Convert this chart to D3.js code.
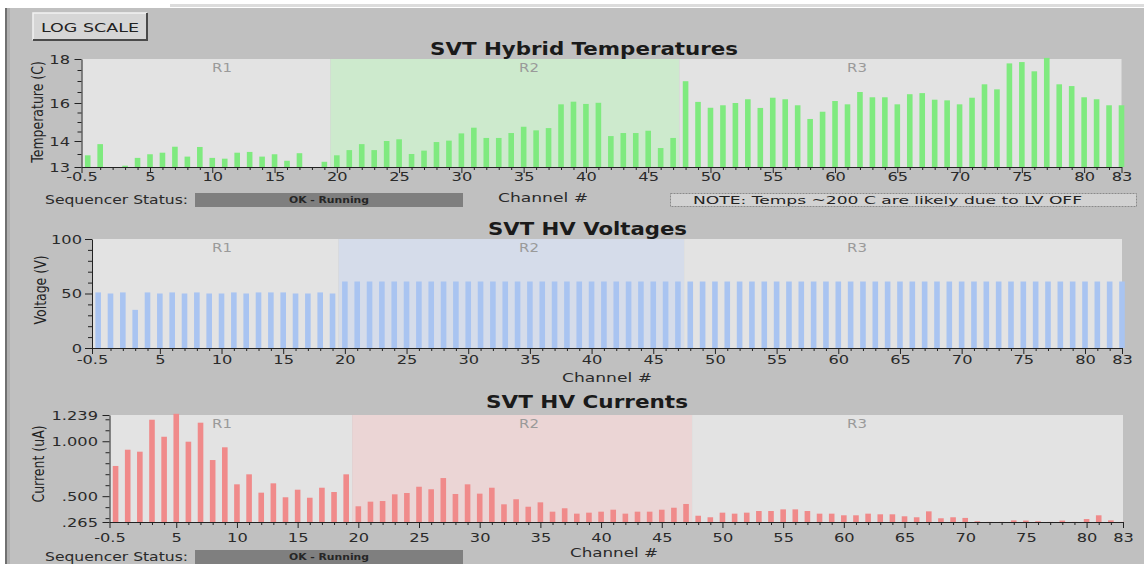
<!DOCTYPE html>
<html><head><meta charset="utf-8">
<script src="https://cdn.jsdelivr.net/npm/d3@7"></script>
<style>
html,body{margin:0;padding:0;background:#fff;}
svg{display:block;}
text{font-family:"DejaVu Sans",sans-serif;}
</style>
</head><body>
<svg id="chart" width="1144" height="564"></svg>
<script>
// ---------------- DATA ----------------
const channels = d3.range(0, 84);
const temperatures = [13.45,13.88,12.9,13.05,13.35,13.49,13.55,13.78,13.4,13.77,
  13.35,13.32,13.55,13.58,13.4,13.49,13.24,13.53,12.9,13.2,
  13.45,13.65,13.88,13.65,14.0,14.09,13.5,13.63,13.96,14.02,
  14.4,14.7,14.16,14.16,14.42,14.75,14.56,14.68,15.93,16.06,
  15.95,16.01,14.26,14.42,14.42,14.54,13.73,14.16,16.99,16.05,
  15.75,15.88,16.0,16.17,15.74,16.24,16.17,15.88,15.16,15.54,
  16.09,15.93,16.5,16.26,16.26,15.93,16.4,16.45,16.15,16.12,
  15.93,16.24,16.85,16.62,17.8,17.86,17.44,18.05,16.85,16.77,
  16.26,16.17,15.88,15.88];
const voltages = [51,50,51,35,51,50,51,50,51,50,50,51,50,51,51,51,50,50,51,50,
  61,61,61,61,61,61,61,61,61,61,61,61,61,61,61,61,61,61,61,61,
  61,61,61,61,61,61,61,61,61,61,61,61,61,61,61,61,61,61,61,61,
  61,61,61,61,61,61,61,61,61,61,61,61,61,61,61,61,61,61,61,61,
  61,61,61,61];
const currents = [0.775,0.923,0.905,1.196,1.041,1.25,0.996,1.169,0.829,0.945,
  0.608,0.699,0.532,0.617,0.49,0.559,0.486,0.577,0.538,0.699,
  0.408,0.45,0.456,0.517,0.529,0.586,0.563,0.665,0.52,0.608,
  0.523,0.577,0.426,0.472,0.404,0.444,0.359,0.39,0.341,0.35,
  0.359,0.377,0.341,0.359,0.359,0.377,0.395,0.429,0.322,0.308,
  0.35,0.341,0.35,0.365,0.365,0.38,0.38,0.365,0.341,0.341,
  0.326,0.326,0.341,0.335,0.335,0.317,0.308,0.362,0.299,0.308,
  0.302,0.272,0.266,0.266,0.28,0.278,0.272,0.266,0.278,0.266,
  0.292,0.326,0.28,0.266];
const regionNames = ["R1","R2","R3"];
const regionBounds = [[-0.5,19.5],[19.5,47.5],[47.5,83]];
const xTickValues = [-0.5,5,10,15,20,25,30,35,40,45,50,55,60,65,70,75,80,83];
const tempTicks = [13,14,16,18];
const voltTicks = [0,50,100];
const voltMinor = [10,20,30,40,60,70,80,90];
const currTicks = [0.265,0.5,1.0,1.239];
const currTickLabels = [".265",".500","1.000","1.239"];
const currMinor = [0.3,0.4,0.6,0.7,0.8,0.9,1.1,1.2];
const tempMinor = [13.5,14.5,15,15.5,16.5,17,17.5];
const titles = ["SVT Hybrid Temperatures","SVT HV Voltages","SVT HV Currents"];
const yTitles = ["Temperature (C)","Voltage (V)","Current (uA)"];

// ---------------- LAYOUT ----------------
const SX = 1.3;
const svg = d3.select("#chart");
svg.append("rect").attr("x",0).attr("y",0).attr("width",1144).attr("height",564).attr("fill","#fff");
svg.append("rect").attr("x",170).attr("y",4).attr("width",974).attr("height",3).attr("fill","#dcdcdc");
svg.append("rect").attr("x",5).attr("y",8).attr("width",1139).attr("height",556).attr("fill","#c0c0c0");
svg.append("rect").attr("x",5).attr("y",8).attr("width",2).attr("height",556).attr("fill","#707070");
svg.append("rect").attr("x",7).attr("y",8).attr("width",3).attr("height",556).attr("fill","#b0b0b0");

// LOG SCALE button
const btn = svg.append("g");
btn.append("rect").attr("x",33).attr("y",13).attr("width",114).attr("height",27).attr("fill","#d6d6d6");
btn.append("path").attr("d","M33,40 L33,13 L147,13").attr("stroke","#f2f2f2").attr("stroke-width",1.5).attr("fill","none");
btn.append("path").attr("d","M147,13 L147,40 L33,40").attr("stroke","#4a4a4a").attr("stroke-width",2).attr("fill","none");
btn.append("text").attr("x",41).attr("y",32).attr("font-size",13).attr("fill","#222")
  .attr("textLength",98).attr("lengthAdjust","spacingAndGlyphs").text("LOG SCALE");

const panels = [
  {values: temperatures, left:81.5, right:1121.5, yDomain:[13,14,16,18], yRange:[167,141,103,59],
   ticks: tempTicks, tickLabels: tempTicks.map(String), minor: tempMinor,
   bar:"#7fea7f", r2:"#cdeacd", title:{x:584,y:55,w:308}, ytitle:{x:38,y:112},
   labelGap:11.5, xLabelTop:5, chan:{x:543,y:202,w:90}},
  {values: voltages, left:92, right:1122, yDomain:[0,100], yRange:[348,239],
   ticks: voltTicks, tickLabels: voltTicks.map(String), minor: voltMinor,
   bar:"#a9c4f1", r2:"#d5dcea", title:{x:587.5,y:235,w:199}, ytitle:{x:41,y:290},
   labelGap:10, xLabelTop:7, chan:{x:607,y:382,w:90}},
  {values: currents, left:109.5, right:1123, yDomain:[0.265,1.239], yRange:[522,415],
   ticks: currTicks, tickLabels: currTickLabels, minor: currMinor,
   bar:"#f08a8a", r2:"#ebd5d5", title:{x:587,y:408,w:202}, ytitle:{x:39,y:464},
   labelGap:11.5, xLabelTop:11, chan:{x:614,y:557,w:88}}
];
const regionLabelX = [222,529,857];

panels.forEach((p, pi) => {
  const x = d3.scaleLinear().domain([-0.5,83]).range([p.left,p.right]);
  const y = d3.scaleLinear().domain(p.yDomain).range(p.yRange);
  const top = p.yRange[p.yRange.length-1], bottom = p.yRange[0];
  const g = svg.append("g");
  // regions
  regionBounds.forEach((b,i) => {
    g.append("rect").attr("x",x(b[0])).attr("y",top).attr("width",x(b[1])-x(b[0])).attr("height",bottom-top)
      .attr("fill", i===1 ? p.r2 : "#e3e3e3");
  });
  regionNames.forEach((n,i) => {
    g.append("text").attr("transform",`translate(${regionLabelX[i]},${top+13}) scale(${SX},1)`)
      .attr("text-anchor","middle").attr("font-size",11.5).attr("fill","#9a9a9a").text(n);
  });
  // bars
  const bw = 5.6;
  g.selectAll("rect.bar").data(channels).enter().append("rect").attr("class","bar")
    .attr("x", c => x(c)-bw/2).attr("width",bw)
    .attr("y", c => Math.min(y(p.values[c]), bottom))
    .attr("height", c => Math.max(0, bottom - y(p.values[c])))
    .attr("fill", p.bar);
  // x axis major
  const xa = g.append("g").attr("transform",`translate(0,${bottom})`)
    .call(d3.axisBottom(x).tickValues(xTickValues).tickSize(6).tickSizeOuter(0).tickFormat(d=>String(d)));
  xa.select(".domain").attr("stroke","#222");
  xa.selectAll(".tick line").attr("stroke","#222");
  xa.selectAll(".tick text").attr("font-family","DejaVu Sans").attr("font-size",12.5).attr("fill","#2a2a2a")
    .attr("y",p.xLabelTop).attr("dy","0.76em").attr("transform",`scale(${SX},1)`);
  // x axis minor
  const minorX = channels.filter(c => c % 5 !== 0 && c !== 83);
  const xm = g.append("g").attr("transform",`translate(0,${bottom})`)
    .call(d3.axisBottom(x).tickValues(minorX).tickSize(3).tickFormat(""));
  xm.select(".domain").remove();
  xm.selectAll(".tick line").attr("stroke","#222");
  // y axis major
  const ya = g.append("g").attr("transform",`translate(${p.left},0)`)
    .call(d3.axisLeft(y).tickValues(p.ticks).tickSize(7).tickSizeOuter(0).tickFormat((d,i)=>p.tickLabels[i]));
  ya.select(".domain").attr("stroke","#222");
  ya.selectAll(".tick line").attr("stroke","#222");
  ya.selectAll(".tick text").attr("font-family","DejaVu Sans").attr("font-size",12.5).attr("fill","#2a2a2a")
    .attr("x", -p.labelGap/SX).attr("transform",`scale(${SX},1)`);
  const ym = g.append("g").attr("transform",`translate(${p.left},0)`)
    .call(d3.axisLeft(y).tickValues(p.minor).tickSize(4).tickFormat(""));
  ym.select(".domain").remove();
  ym.selectAll(".tick line").attr("stroke","#222");
  // titles
  g.append("text").attr("x",p.title.x-p.title.w/2).attr("y",p.title.y).attr("font-size",17).attr("font-weight","bold")
    .attr("fill","#1a1a1a").attr("textLength",p.title.w).attr("lengthAdjust","spacingAndGlyphs")
    .text(titles[pi]);
  g.append("text").attr("transform",`translate(${p.ytitle.x},${p.ytitle.y}) rotate(-90) scale(1,1.2)`)
    .attr("text-anchor","middle").attr("dy","0.35em").attr("font-size",12.5).attr("fill","#222")
    .text(yTitles[pi]);
  g.append("text").attr("x",p.chan.x-p.chan.w/2).attr("y",p.chan.y).attr("font-size",13).attr("fill","#2a2a2a")
    .attr("textLength",p.chan.w).attr("lengthAdjust","spacingAndGlyphs").text("Channel #");
});

// Sequencer status rows
[{y:193, base:204}, {y:550, base:561}].forEach(s => {
  svg.append("text").attr("x",45).attr("y",s.base).attr("font-size",12).attr("fill","#2a2a2a")
    .attr("textLength",143).attr("lengthAdjust","spacingAndGlyphs").text("Sequencer Status:");
  svg.append("rect").attr("x",195).attr("y",s.y).attr("width",268).attr("height",14).attr("fill","#7f7f7f");
  svg.append("text").attr("x",289).attr("y",s.base-1).attr("font-size",9).attr("font-weight","bold").attr("fill","#262626")
    .attr("textLength",80).attr("lengthAdjust","spacingAndGlyphs").text("OK - Running");
});
// Note box
svg.append("rect").attr("x",670.5).attr("y",193.5).attr("width",466).attr("height",13).attr("fill","#d2d2d2")
  .attr("stroke","#8a8a8a").attr("stroke-dasharray","2,1");
svg.append("text").attr("x",693).attr("y",204).attr("font-size",11).attr("fill","#222")
  .attr("textLength",389).attr("lengthAdjust","spacingAndGlyphs").text("NOTE:  Temps ~200 C are likely due to LV OFF");
</script>
</body></html>
